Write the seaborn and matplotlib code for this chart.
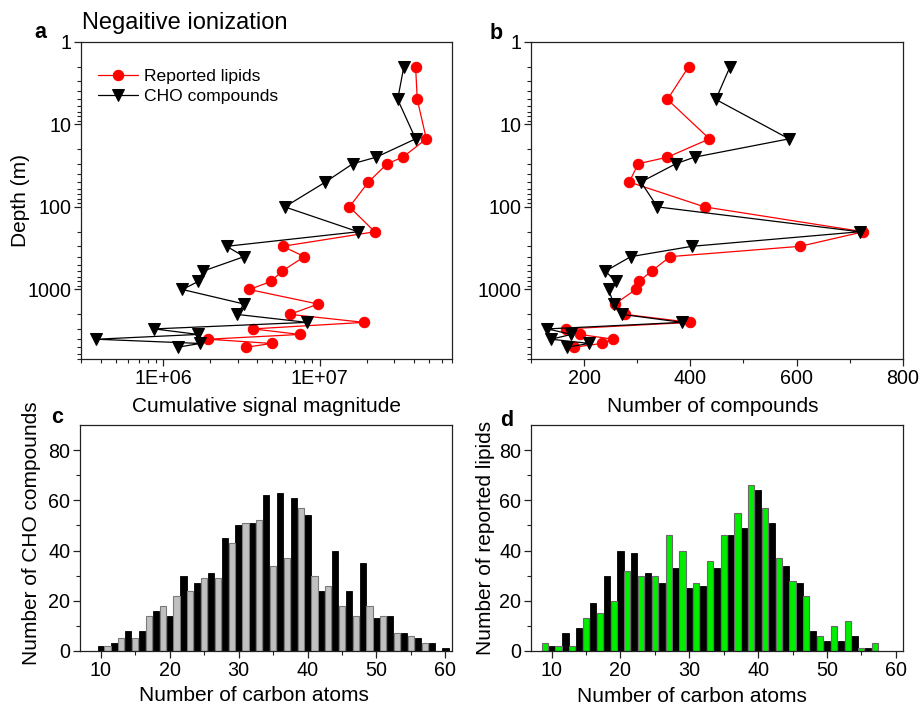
import numpy as np
import pandas as pd
import matplotlib
matplotlib.use("Agg")
import matplotlib.pyplot as plt
import seaborn as sns
from matplotlib.ticker import FixedLocator, FixedFormatter, MultipleLocator, LogLocator, NullFormatter

# ---------------- data ----------------
depth = [2, 5, 15, 25, 30, 50, 100, 200, 300, 400, 600, 800, 1000,
         1500, 2000, 2500, 3000, 3500, 4000, 4500, 5000]
lipid_signal = [4.1e7, 4.2e7, 4.8e7, 3.4e7, 2.7e7, 2.05e7, 1.55e7, 2.25e7, 5.8e6, 8.0e6,
                5.75e6, 4.9e6, 3.55e6, 9.8e6, 6.45e6, 1.92e7, 3.75e6, 7.5e6, 1.95e6,
                4.95e6, 3.4e6]
cho_signal = [3.45e7, 3.15e7, 4.1e7, 2.3e7, 1.63e7, 1.09e7, 6.0e6, 1.76e7, 2.55e6, 3.3e6,
              1.8e6, 1.68e6, 1.33e6, 3.3e6, 2.95e6, 8.3e6, 8.8e5, 1.68e6, 3.75e5,
              1.73e6, 1.24e6]
lipid_count = [397, 357, 436, 357, 302, 285, 427, 726, 607, 362, 327, 303, 297,
               258, 277, 400, 165, 192, 255, 233, 181]
cho_count = [475, 448, 586, 408, 373, 307, 338, 719, 403, 288, 240, 260, 246,
             256, 271, 385, 131, 176, 138, 210, 167]

# panel c: CHO compounds by carbon number
c_even_carbon = list(range(10, 61, 2))
c_even_count = [2, 3, 8, 8, 16, 14, 30, 27, 31, 45, 50, 51, 62, 63, 61, 54, 24, 40,
                24, 35, 13, 14, 7, 5, 3, 1]
c_odd_carbon = list(range(11, 58, 2))
c_odd_count = [2, 5, 5, 14, 18, 22, 24, 29, 29, 43, 51, 52, 34, 37, 57, 30, 26, 18,
               14, 18, 14, 7, 6, 3]

# panel d: reported lipids by carbon number
d_odd_carbon = list(range(9, 58, 2))
d_odd_count = [3, 2, 2, 13, 15, 20, 32, 30, 30, 46, 40, 27, 36, 46, 55, 66, 57, 37,
               28, 22, 6, 10, 12, 1, 3]
d_even_carbon = list(range(10, 57, 2))
d_even_count = [2, 7, 9, 19, 30, 40, 39, 31, 27, 33, 25, 26, 33, 46, 49, 64, 51, 34,
                27, 8, 4, 4, 6, 1]

depth_ticks = [1, 10, 100, 1000]
depth_labels = ["1", "10", "100", "1000"]

# ---------------- style ----------------
sns.set_style("ticks")
plt.rcParams["font.family"] = ["Liberation Sans", "DejaVu Sans"]
plt.rcParams["axes.linewidth"] = 0.9
plt.rcParams["axes.edgecolor"] = "#222222"
plt.rcParams["text.color"] = "black"
plt.rcParams["axes.labelcolor"] = "black"
plt.rcParams["xtick.color"] = "#222222"
plt.rcParams["ytick.color"] = "#222222"

TICK = 14.2
LAB = 15

fig = plt.figure(figsize=(9.22, 7.05), dpi=100)
W, H = 922.0, 705.0


def add_ax(l, r, t, b):
    return fig.add_axes([l / W, 1 - b / H, (r - l) / W, (b - t) / H])


ax_a = add_ax(81, 452, 41.7, 359.3)
ax_b = add_ax(531, 902.7, 41.7, 359.3)
ax_c = add_ax(80, 452.3, 425, 651)
ax_d = add_ax(531, 902.7, 425, 651)


def style_ticks(ax):
    ax.tick_params(which="major", direction="out", length=5, width=0.9,
                   labelsize=TICK, top=False, right=False, colors="#222222",
                   labelcolor="black", pad=2)
    ax.tick_params(which="minor", direction="out", length=3, width=0.8,
                   top=False, right=False, colors="#222222")
    for s in ax.spines.values():
        s.set_visible(True)
        s.set_linewidth(0.9)


def depth_axis(ax):
    ax.set_yscale("log")
    ax.set_ylim(7000, 1)
    ax.yaxis.set_major_locator(FixedLocator(depth_ticks))
    ax.yaxis.set_major_formatter(FixedFormatter(depth_labels))
    ax.yaxis.set_minor_locator(LogLocator(base=10, subs=np.arange(2, 10)))
    ax.yaxis.set_minor_formatter(NullFormatter())


# ---------------- panel a ----------------
ax_a.set_xscale("log")
ax_a.set_yscale("log")
sns.lineplot(x=lipid_signal, y=depth, sort=False, estimator=None, ax=ax_a,
             color="#ff0000", linewidth=0.9, marker="o", markersize=7.5,
             markeredgecolor="#ff0000", markerfacecolor="#ff0000",
             label="Reported lipids")
sns.lineplot(x=cho_signal, y=depth, sort=False, estimator=None, ax=ax_a,
             color="black", linewidth=0.9, marker="v", markersize=8,
             markeredgecolor="black", markerfacecolor="black",
             label="CHO compounds")
ax_a.set_xlim(3e5, 7e7)
depth_axis(ax_a)
ax_a.xaxis.set_major_locator(FixedLocator([1e6, 1e7]))
ax_a.xaxis.set_major_formatter(FixedFormatter(["1E+06", "1E+07"]))
ax_a.xaxis.set_minor_locator(LogLocator(base=10, subs=np.arange(2, 10)))
ax_a.xaxis.set_minor_formatter(NullFormatter())
style_ticks(ax_a)
ax_a.set_xlabel("Cumulative signal magnitude", fontsize=LAB)
ax_a.set_ylabel("Depth (m)", fontsize=LAB)
ax_a.xaxis.set_label_coords(0.5, -0.118)
ax_a.yaxis.set_label_coords(-0.138, 0.5)
leg = ax_a.legend(loc="upper left", bbox_to_anchor=(0.045, 0.915), frameon=False,
                  fontsize=12.6, handlelength=2.3, handletextpad=0.35,
                  labelspacing=0.3, borderpad=0, borderaxespad=0)
for t in leg.get_texts():
    t.set_color("black")

# ---------------- panel b ----------------
ax_b.set_yscale("log")
sns.lineplot(x=lipid_count, y=depth, sort=False, estimator=None, ax=ax_b,
             color="#ff0000", linewidth=0.9, marker="o", markersize=7.5,
             markeredgecolor="#ff0000", markerfacecolor="#ff0000", legend=False)
sns.lineplot(x=cho_count, y=depth, sort=False, estimator=None, ax=ax_b,
             color="black", linewidth=0.9, marker="v", markersize=8,
             markeredgecolor="black", markerfacecolor="black", legend=False)
ax_b.set_xlim(100, 800)
depth_axis(ax_b)
ax_b.xaxis.set_major_locator(MultipleLocator(200))
ax_b.xaxis.set_minor_locator(MultipleLocator(100))
style_ticks(ax_b)
ax_b.set_xlabel("Number of compounds", fontsize=LAB)
ax_b.set_ylabel("")
ax_b.xaxis.set_label_coords(0.49, -0.118)

# ---------------- panel c ----------------
sns.barplot(x=c_even_carbon, y=c_even_count, native_scale=True, width=0.45,
            color="black", saturation=1, edgecolor="black", linewidth=0.6,
            errorbar=None, ax=ax_c)
sns.barplot(x=c_odd_carbon, y=c_odd_count, native_scale=True, width=0.45,
            color="#c0c0c0", saturation=1, edgecolor="#7a7a7a", linewidth=0.8,
            errorbar=None, ax=ax_c)
ax_c.set_xlim(7, 61)
ax_c.set_ylim(0, 90)
ax_c.xaxis.set_major_locator(MultipleLocator(10))
ax_c.xaxis.set_minor_locator(MultipleLocator(5))
ax_c.yaxis.set_major_locator(FixedLocator([0, 20, 40, 60, 80]))
ax_c.yaxis.set_minor_locator(FixedLocator([10, 30, 50, 70]))
style_ticks(ax_c)
ax_c.set_xlabel("Number of carbon atoms", fontsize=LAB)
ax_c.set_ylabel("Number of CHO compounds", fontsize=LAB)
ax_c.xaxis.set_label_coords(0.468, -0.155)
ax_c.yaxis.set_label_coords(-0.105, 0.52)

# ---------------- panel d ----------------
sns.barplot(x=d_even_carbon, y=d_even_count, native_scale=True, width=0.45,
            color="black", saturation=1, edgecolor="black", linewidth=0.6,
            errorbar=None, ax=ax_d)
sns.barplot(x=d_odd_carbon, y=d_odd_count, native_scale=True, width=0.45,
            color="#00ee00", saturation=1, edgecolor="#6a6a6a", linewidth=0.8,
            errorbar=None, ax=ax_d)
ax_d.set_xlim(7, 61)
ax_d.set_ylim(0, 90)
ax_d.xaxis.set_major_locator(MultipleLocator(10))
ax_d.xaxis.set_minor_locator(MultipleLocator(5))
ax_d.yaxis.set_major_locator(FixedLocator([0, 20, 40, 60, 80]))
ax_d.yaxis.set_minor_locator(FixedLocator([10, 30, 50, 70]))
style_ticks(ax_d)
ax_d.set_xlabel("Number of carbon atoms", fontsize=LAB)
ax_d.set_ylabel("Number of reported lipids", fontsize=LAB)
ax_d.xaxis.set_label_coords(0.432, -0.158)
ax_d.yaxis.set_label_coords(-0.098, 0.5)

# ---------------- annotations ----------------
fig.text(82 / W, 1 - 29 / H, "Negaitive ionization", fontsize=17,
         ha="left", va="baseline", color="black")
for letter, x, y in [("a", 40, 38), ("b", 496, 39), ("c", 57, 423), ("d", 507, 426)]:
    fig.text(x / W, 1 - y / H, letter, fontsize=15.5, fontweight="bold",
             ha="center", va="baseline", color="black")

fig.savefig("out.png", dpi=100)
